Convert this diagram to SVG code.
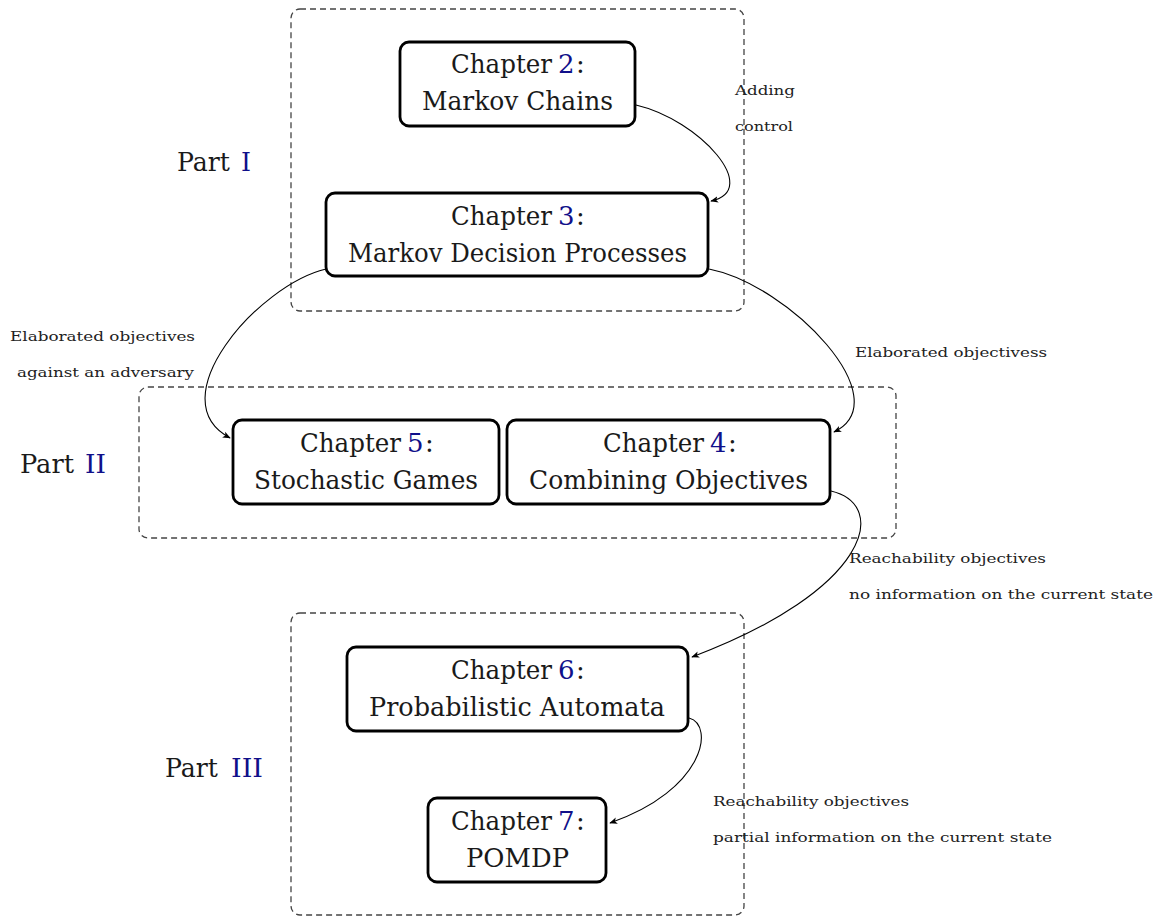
<svg xmlns="http://www.w3.org/2000/svg" width="1156" height="916" viewBox="0 0 1156 916">
<style>
.part{fill:none;stroke:#444;stroke-width:1.3;stroke-dasharray:6 4}
.node rect{fill:#fff;stroke:#000;stroke-width:2.8}
.nt{font-family:"DejaVu Serif","Liberation Serif",serif;font-size:26px;fill:#1a1a1a}
.mid{text-anchor:middle}
.num{fill:#10108a}
.lbl{font-family:"DejaVu Serif","Liberation Serif",serif;font-size:12.5px;fill:#222}
.edge{fill:none;stroke:#000;stroke-width:1.1;marker-end:url(#arr)}
</style>
<defs>
<marker id="arr" viewBox="0 0 10 10" refX="9" refY="5" markerWidth="8" markerHeight="8" markerUnits="userSpaceOnUse" orient="auto">
<path d="M0,1 L10,5 L0,9 L2.5,5 Z" fill="#000"/>
</marker>
</defs>
<g id="parts">
<rect id="part1" class="part" x="291" y="9" width="453" height="302" rx="9"/>
<rect id="part2" class="part" x="139" y="387" width="757" height="151" rx="9"/>
<rect id="part3" class="part" x="291" y="613" width="453" height="302" rx="9"/>
<text class="nt" x="177" y="171" textLength="53" lengthAdjust="spacingAndGlyphs">Part</text>
<text class="nt num" x="241" y="171" textLength="10" lengthAdjust="spacingAndGlyphs">I</text>
<text class="nt" x="20" y="473" textLength="54" lengthAdjust="spacingAndGlyphs">Part</text>
<text class="nt num" x="85" y="473" textLength="21" lengthAdjust="spacingAndGlyphs">II</text>
<text class="nt" x="165" y="777" textLength="53" lengthAdjust="spacingAndGlyphs">Part</text>
<text class="nt num" x="231" y="777" textLength="32" lengthAdjust="spacingAndGlyphs">III</text>
</g>
<g id="connectors">
<path class="edge" d="M636,105 C700,120 762,190 711,201"/>
<path class="edge" d="M326,269 C258,285 158,400 230,438"/>
<path class="edge" d="M709,269 C790,285 900,400 834,432"/>
<path class="edge" d="M831,491 C890,505 870,590 692,657"/>
<path class="edge" d="M689,718 C715,725 705,790 610,823"/>
<text class="lbl" x="735" y="95" textLength="60" lengthAdjust="spacingAndGlyphs">Adding</text>
<text class="lbl" x="735" y="131" textLength="58" lengthAdjust="spacingAndGlyphs">control</text>
<text class="lbl" x="10" y="341" textLength="185" lengthAdjust="spacingAndGlyphs">Elaborated objectives</text>
<text class="lbl" x="17" y="377" textLength="177" lengthAdjust="spacingAndGlyphs">against an adversary</text>
<text class="lbl" x="855" y="357" textLength="192" lengthAdjust="spacingAndGlyphs">Elaborated objectivess</text>
<text class="lbl" x="849" y="563" textLength="197" lengthAdjust="spacingAndGlyphs">Reachability objectives</text>
<text class="lbl" x="849" y="599" textLength="304" lengthAdjust="spacingAndGlyphs">no information on the current state</text>
<text class="lbl" x="713" y="806" textLength="196" lengthAdjust="spacingAndGlyphs">Reachability objectives</text>
<text class="lbl" x="713" y="842" textLength="339" lengthAdjust="spacingAndGlyphs">partial information on the current state</text>
</g>
<g id="ch2" class="node">
<rect x="400" y="42" width="235" height="84" rx="9"/>
<text class="nt" x="451" y="73" textLength="101" lengthAdjust="spacingAndGlyphs">Chapter</text>
<text class="nt num" x="558" y="73">2</text>
<text class="nt" x="576" y="73">:</text>
<text class="nt mid" x="517.5" y="110" textLength="191" lengthAdjust="spacingAndGlyphs">Markov Chains</text>
</g>
<g id="ch3" class="node">
<rect x="326" y="193" width="382" height="83" rx="9"/>
<text class="nt" x="451" y="225" textLength="101" lengthAdjust="spacingAndGlyphs">Chapter</text>
<text class="nt num" x="558" y="225">3</text>
<text class="nt" x="576" y="225">:</text>
<text class="nt mid" x="517.5" y="262" textLength="339" lengthAdjust="spacingAndGlyphs">Markov Decision Processes</text>
</g>
<g id="ch5" class="node">
<rect x="233" y="420" width="266" height="84" rx="9"/>
<text class="nt" x="300" y="452" textLength="101" lengthAdjust="spacingAndGlyphs">Chapter</text>
<text class="nt num" x="407" y="452">5</text>
<text class="nt" x="425" y="452">:</text>
<text class="nt mid" x="366" y="489" textLength="224" lengthAdjust="spacingAndGlyphs">Stochastic Games</text>
</g>
<g id="ch4" class="node">
<rect x="507" y="420" width="323" height="84" rx="9"/>
<text class="nt" x="603" y="452" textLength="101" lengthAdjust="spacingAndGlyphs">Chapter</text>
<text class="nt num" x="710" y="452">4</text>
<text class="nt" x="728" y="452">:</text>
<text class="nt mid" x="668.5" y="489" textLength="279" lengthAdjust="spacingAndGlyphs">Combining Objectives</text>
</g>
<g id="ch6" class="node">
<rect x="347" y="647" width="341" height="84" rx="9"/>
<text class="nt" x="451" y="679" textLength="101" lengthAdjust="spacingAndGlyphs">Chapter</text>
<text class="nt num" x="558" y="679">6</text>
<text class="nt" x="576" y="679">:</text>
<text class="nt mid" x="517" y="716" textLength="296" lengthAdjust="spacingAndGlyphs">Probabilistic Automata</text>
</g>
<g id="ch7" class="node">
<rect x="428" y="798" width="178" height="84" rx="9"/>
<text class="nt" x="451" y="830" textLength="101" lengthAdjust="spacingAndGlyphs">Chapter</text>
<text class="nt num" x="558" y="830">7</text>
<text class="nt" x="576" y="830">:</text>
<text class="nt mid" x="517.5" y="867" textLength="103" lengthAdjust="spacingAndGlyphs">POMDP</text>
</g>
</svg>
